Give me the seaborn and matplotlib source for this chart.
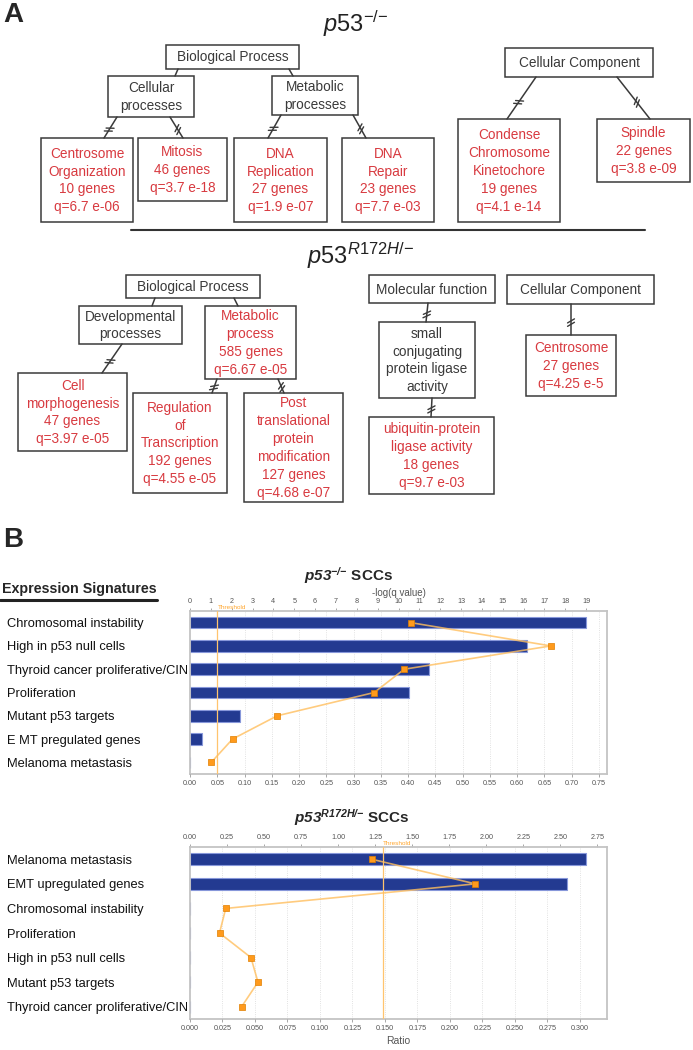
import numpy as np
import pandas as pd
import seaborn as sns
import matplotlib.pyplot as plt
from matplotlib.patches import Rectangle
from matplotlib.ticker import FixedLocator

# ---- data: panel B (IPA expression signatures) ----
null_terms = ["Chromosomal instability", "High in p53 null cells",
              "Thyroid cancer proliferative/CIN", "Proliferation",
              "Mutant p53 targets", "E MT pregulated genes", "Melanoma metastasis"]
null_neglogq = [19.0, 16.14, 11.45, 10.48, 2.38, 0.58, 0.0]
null_ratio = [0.405, 0.662, 0.393, 0.338, 0.160, 0.078, 0.039]

mut_terms = ["Melanoma metastasis", "EMT upregulated genes", "Chromosomal instability",
             "Proliferation", "High in p53 null cells", "Mutant p53 targets",
             "Thyroid cancer proliferative/CIN"]
mut_neglogq = [2.675, 2.544, 0.0, 0.0, 0.0, 0.0, 0.0]
mut_ratio = [0.140, 0.2195, 0.0275, 0.0227, 0.0469, 0.0523, 0.0397]

threshold = 1.3

null_top_ticks = list(range(0, 20))
null_bot_ticks = [0.00, 0.05, 0.10, 0.15, 0.20, 0.25, 0.30, 0.35, 0.40, 0.45,
                  0.50, 0.55, 0.60, 0.65, 0.70, 0.75]
mut_top_ticks = [0.00, 0.25, 0.50, 0.75, 1.00, 1.25, 1.50, 1.75, 2.00, 2.25, 2.50, 2.75]
mut_bot_ticks = [0.000, 0.025, 0.050, 0.075, 0.100, 0.125, 0.150, 0.175, 0.200,
                 0.225, 0.250, 0.275, 0.300]

# ---- data: panel A (GO term trees) ----
null_headers = ["Biological Process", "Cellular\nprocesses", "Metabolic\nprocesses",
                "Cellular Component"]
null_terms_go = ["Centrosome\nOrganization\n10 genes\nq=6.7 e-06",
                 "Mitosis\n46 genes\nq=3.7 e-18",
                 "DNA\nReplication\n27 genes\nq=1.9 e-07",
                 "DNA\nRepair\n23 genes\nq=7.7 e-03",
                 "Condense\nChromosome\nKinetochore\n19 genes\nq=4.1 e-14",
                 "Spindle\n22 genes\nq=3.8 e-09"]
mut_headers = ["Biological Process", "Developmental\nprocesses", "Molecular function",
               "small\nconjugating\nprotein ligase\nactivity", "Cellular Component"]
mut_terms_go = ["Metabolic\nprocess\n585 genes\nq=6.67 e-05",
                "Cell\nmorphogenesis\n47 genes\nq=3.97 e-05",
                "Regulation\nof\nTranscription\n192 genes\nq=4.55 e-05",
                "Post\ntranslational\nprotein\nmodification\n127 genes\nq=4.68 e-07",
                "ubiquitin-protein\nligase activity\n18 genes\nq=9.7 e-03",
                "Centrosome\n27 genes\nq=4.25 e-5"]

# ---- layout (pixels of a 693x1050 canvas) ----
W, H = 693, 1050
null_header_boxes = [(166, 45, 299, 69), (108, 76, 194, 117), (272, 76, 358, 115), (505, 48, 653, 77)]
null_term_boxes = [(41, 138, 133, 222), (138, 138, 227, 201), (234, 138, 327, 222),
                   (342, 138, 434, 222), (458, 119, 560, 222), (597, 119, 690, 182)]
mut_header_boxes = [(126, 275, 260, 298), (79, 306, 182, 344), (369, 275, 495, 303),
                    (379, 322, 475, 398), (507, 275, 654, 304)]
mut_term_boxes = [(205, 306, 296, 379), (18, 373, 127, 451), (133, 393, 227, 493),
                  (244, 393, 343, 502), (369, 417, 494, 494), (526, 335, 616, 396)]
links = [((178, 69), (175, 76), False), ((289, 69), (293, 76), False),
         ((117, 117), (104, 138), True), ((170, 117), (183, 138), True),
         ((281, 115), (268, 138), True), ((353, 115), (366, 138), True),
         ((536, 77), (507, 119), True), ((617, 77), (650, 119), True),
         ((155, 298), (152, 306), False), ((234, 298), (238, 306), False),
         ((122, 344), (102, 373), True), ((217, 379), (212, 393), True),
         ((278, 379), (284, 393), True), ((428, 303), (426, 322), True),
         ((432, 398), (431, 417), True), ((571, 304), (571, 335), True)]

edge_col = "#3a3a3a"
red = "#d83a40"
bar_color = "#233a91"
line_color = "#ffbf5e"
marker_color = "#ff9a1c"
thr_color = "#ffc46e"

sns.set_style("white")
plt.rcParams["font.family"] = ["Liberation Sans", "DejaVu Sans"]
plt.rcParams["mathtext.fontset"] = "custom"
plt.rcParams["mathtext.rm"] = "Liberation Sans"
plt.rcParams["mathtext.it"] = "Liberation Sans:italic"
plt.rcParams["mathtext.bf"] = "Liberation Sans:bold"
plt.rcParams["mathtext.bfit"] = "Liberation Sans:italic:bold"

fig = plt.figure(figsize=(6.93, 10.5), dpi=100)
axA = fig.add_axes([0, 0, 1, 1])
axA.set_xlim(0, W)
axA.set_ylim(H, 0)
axA.axis("off")


def draw_box(box, text, color):
    x0, y0, x1, y1 = box
    axA.add_patch(Rectangle((x0, y0), x1 - x0, y1 - y0, fill=False,
                            edgecolor=edge_col, linewidth=1.1))
    axA.text((x0 + x1) / 2, (y0 + y1) / 2 + 0.5, text, ha="center", va="center",
             color=color, fontsize=9.8, linespacing=1.36, multialignment="center")


def connector(p, q, brk):
    axA.plot([p[0], q[0]], [p[1], q[1]], color=edge_col, lw=1.1)
    if brk:
        d = np.array([q[0] - p[0], q[1] - p[1]], dtype=float)
        d /= np.hypot(*d)
        n = np.array([-d[1], d[0]])
        m = n * 0.85 + d * 0.5
        m /= np.hypot(*m)
        c0 = np.array(p) + (np.array(q) - np.array(p)) * 0.6
        for off in (-1.7, 1.7):
            c = c0 + d * off
            axA.plot([c[0] - m[0] * 4, c[0] + m[0] * 4], [c[1] - m[1] * 4, c[1] + m[1] * 4],
                     color=edge_col, lw=1.0)


for box, txt in zip(null_header_boxes, null_headers):
    draw_box(box, txt, edge_col)
for box, txt in zip(null_term_boxes, null_terms_go):
    draw_box(box, txt, red)
for box, txt in zip(mut_header_boxes, mut_headers):
    draw_box(box, txt, edge_col)
for box, txt in zip(mut_term_boxes, mut_terms_go):
    draw_box(box, txt, red)
for p, q, brk in links:
    connector(p, q, brk)

axA.plot([131, 645], [230, 230], color="#333333", lw=1.5)
axA.text(3, 15, "A", fontsize=20, fontweight="bold", va="center", ha="left")
axA.text(3, 540, "B", fontsize=20, fontweight="bold", va="center", ha="left")
axA.text(356, 24, r"$\mathit{p53}^{\mathit{{-}/{-}}}$", fontsize=17, ha="center", va="center",
         color="#222222")
axA.text(360, 256, r"$\mathit{p53}^{\mathit{R172H/{-}}}$", fontsize=17, ha="center", va="center",
         color="#222222")

# panel B header
axA.text(2, 589, "Expression Signatures", fontsize=10.3, fontweight="bold", va="center", ha="left")
axA.plot([0, 157], [600, 600], color="#222222", lw=2.2)


def draw_chart(rect, terms, neglogq, ratio, top_max, top_ticks, top_fmt,
               bot_max, bot_ticks, bot_fmt, top_label, bot_label):
    df = pd.DataFrame({"term": terms, "neglogq": neglogq, "ratio": ratio,
                       "pos": np.arange(len(terms))})
    ax = fig.add_axes(rect)
    sns.barplot(data=df, x="neglogq", y="term", orient="h", color=bar_color,
                saturation=1, edgecolor="#8797da", linewidth=0.8, width=0.5, ax=ax)
    ax.axvline(threshold, color=thr_color, lw=0.9, zorder=3)
    ax.annotate("Threshold", xy=(threshold, 1), xycoords=("data", "axes fraction"),
                xytext=(0.5, 2.6), textcoords="offset points", fontsize=4.6,
                color="#ffa62e", ha="left", va="center")

    ax2 = ax.twiny()
    sns.lineplot(data=df, x="ratio", y="pos", sort=False, estimator=None, ax=ax2,
                 color=line_color, lw=1.2, alpha=0.8)
    sns.scatterplot(data=df, x="ratio", y="pos", marker="s", s=16, color=marker_color,
                    edgecolor="#e07f00", linewidth=0.5, ax=ax2, zorder=4)

    # bar axis on top, ratio axis at the bottom
    ax.xaxis.tick_top()
    ax.xaxis.set_label_position("top")
    ax2.xaxis.tick_bottom()
    ax2.xaxis.set_label_position("bottom")

    ax.set_xlim(0, top_max)
    ax2.set_xlim(0, bot_max)
    ax.set_ylim(len(terms) - 0.5, -0.5)

    ax.set_xticks(top_ticks)
    ax.set_xticklabels([top_fmt.format(t) for t in top_ticks])
    ax2.set_xticks(bot_ticks)
    ax2.set_xticklabels([bot_fmt.format(t) for t in bot_ticks])

    # faint grid at ratio ticks, kept under the bars
    ax.xaxis.set_minor_locator(FixedLocator([t * top_max / bot_max for t in bot_ticks]))
    ax.grid(which="minor", axis="x", color="#d8d8d8", ls=":", lw=0.6)
    ax.grid(which="major", visible=False)
    ax.set_axisbelow(True)

    for a in (ax, ax2):
        a.tick_params(axis="x", which="major", length=2.5, width=0.6, color="#999999",
                      labelsize=5.2, labelcolor="#555555", pad=1.5)
        a.tick_params(axis="x", which="minor", length=0)
    for s in ax.spines.values():
        s.set_color("#c4c4c4")
        s.set_linewidth(1.3)
    for s in ax2.spines.values():
        s.set_visible(False)

    ax.set_xlabel(top_label, fontsize=7, color="#555555", labelpad=2)
    ax2.set_xlabel(bot_label, fontsize=7.5, color="#555555", labelpad=3)
    ax.set_ylabel("")
    ax2.set_ylabel("")

    ax.tick_params(axis="y", length=0, pad=(rect[0] * W - 7) * 0.72, labelsize=9.3,
                   labelcolor="#111111")
    for lab in ax.get_yticklabels():
        lab.set_ha("left")
    return ax


left = 190 / W
width = (607 - 190) / W
draw_chart([left, 1 - 774 / H, width, (774 - 611) / H], null_terms, null_neglogq, null_ratio,
           20.0, null_top_ticks, "{:d}", 0.765, null_bot_ticks, "{:.2f}", "-log(q value)", "")
draw_chart([left, 1 - 1019 / H, width, (1019 - 847) / H], mut_terms, mut_neglogq, mut_ratio,
           2.815, mut_top_ticks, "{:.2f}", 0.3208, mut_bot_ticks, "{:.3f}", "", "Ratio")

axA.text(348, 576, r"$\mathbfit{p53}^{\mathbfit{{-}/{-}}}$ SCCs", fontsize=11, fontweight="bold",
         ha="center", va="center")
axA.text(352, 818, r"$\mathbfit{p53}^{\mathbfit{R172H/{-}}}$ SCCs", fontsize=11, fontweight="bold",
         ha="center", va="center")

fig.savefig("out.png", dpi=100)
